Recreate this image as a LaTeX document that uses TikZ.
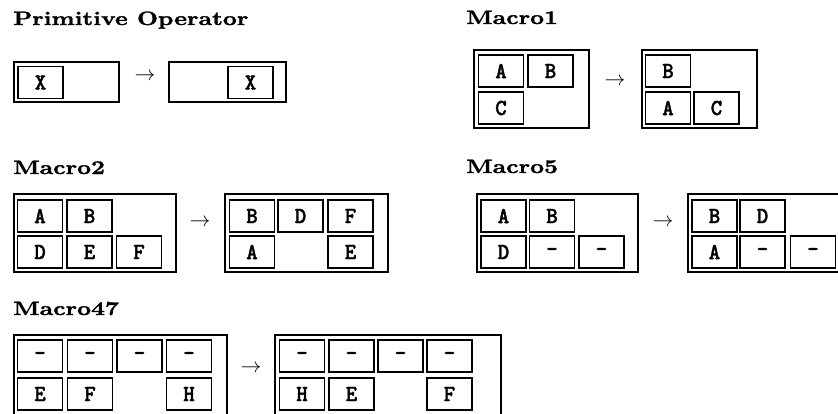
\documentclass[tikz,border=0pt]{standalone}
\usepackage{fontspec}
\newfontfamily\titlerm{lmroman10-bold.otf}[FakeStretch=1.25,FakeBold=1.5]
\newfontfamily\celltt{lmmonolt10-bold.otf}[FakeStretch=0.95,FakeBold=1.5]
\usetikzlibrary{positioning}

\begin{document}
\begin{tikzpicture}[x=1pt,y=-1pt,
    frame/.style={line width=1.2pt},
    cell/.style={draw,line width=1.6pt,minimum width=45pt,minimum height=32pt,
        inner sep=0pt,font=\celltt\fontsize{23}{23}\selectfont},
    title/.style={anchor=base west,inner sep=0pt,
        font=\titlerm\fontsize{19.4}{24}\selectfont},
    arr/.style={inner sep=0pt,font=\fontsize{20.74}{24}\selectfont}]
    \useasboundingbox (0,0) rectangle (838,413);
    \clip (0,0) rectangle (838,413);

    % Primitive Operator
    \node[title] (tprim) at (13,25) {Primitive Operator};
    \draw[frame] (14,62) rectangle (119,102);
    \node[cell] (px1) at (40.5,82.5) {X};
    \node[arr] (parr) at (145,77) {$\rightarrow$};
    \draw[frame] (169,62) rectangle (286,102);
    \node[cell] (px2) at (250.5,82.5) {X};

    % Macro1
    \node[title] (tm1) at (466,24) {Macro1};
    \draw[frame] (474,50) rectangle (589,128);
    \node[cell] (ma1) at (501,71) {A};
    \node[cell] (mb1) at (550.5,71) {B};
    \node[cell] (mc1) at (501,108) {C};
    \node[arr] (marr1) at (615,82) {$\rightarrow$};
    \draw[frame] (642,50) rectangle (757,128);
    \node[cell] (mb1r) at (668,71) {B};
    \node[cell] (ma1r) at (668,108) {A};
    \node[cell] (mc1r) at (716.5,108) {C};

    % Macro2
    \node[title] (tm2) at (13,174) {Macro2};
    \draw[frame] (14,194) rectangle (176,272);
    \node[cell] (ma2) at (40,216) {A};
    \node[cell] (mb2) at (89.5,216) {B};
    \node[cell] (md2) at (40,252) {D};
    \node[cell] (me2) at (89.5,252) {E};
    \node[cell] (mf2) at (139,252) {F};
    \node[arr] (marr2) at (200,223) {$\rightarrow$};
    \draw[frame] (225,194) rectangle (388,272);
    \node[cell] (mb2r) at (252,216) {B};
    \node[cell] (md2r) at (300.5,216) {D};
    \node[cell] (mf2r) at (350.5,216) {F};
    \node[cell] (ma2r) at (252,252) {A};
    \node[cell] (me2r) at (350.5,252) {E};

    % Macro5
    \node[title] (tm5) at (466,173) {Macro5};
    \draw[frame] (477,194) rectangle (638,272);
    \node[cell] (ma5) at (503.5,216) {A};
    \node[cell] (mb5) at (552,216) {B};
    \node[cell] (md5) at (503.5,252) {D};
    \node[cell] (mx5) at (552,252) {-};
    \node[cell] (my5) at (601.5,252) {-};
    \node[arr] (marr5) at (663,223) {$\rightarrow$};
    \draw[frame] (688,194) rectangle (852,272);
    \node[cell] (mb5r) at (714.5,216) {B};
    \node[cell] (md5r) at (762.5,216) {D};
    \node[cell] (ma5r) at (714.5,252) {A};
    \node[cell] (mx5r) at (762.5,252) {-};
    \node[cell] (my5r) at (813,252) {-};

    % Macro47
    \node[title] (tm47) at (13,315) {Macro47};
    \draw[frame] (14,335) rectangle (227,416);
    \node[cell] (mw47) at (40,356) {-};
    \node[cell] (mx47) at (90,356) {-};
    \node[cell] (my47) at (139.5,356) {-};
    \node[cell] (mz47) at (189,356) {-};
    \node[cell] (me47) at (40,394) {E};
    \node[cell] (mf47) at (90,394) {F};
    \node[cell] (mh47) at (189,394) {H};
    \node[arr] (marr47) at (251,369) {$\rightarrow$};
    \draw[frame] (275,335) rectangle (501,416);
    \node[cell] (mw47r) at (302,356) {-};
    \node[cell] (mx47r) at (351.5,356) {-};
    \node[cell] (my47r) at (400.5,356) {-};
    \node[cell] (mz47r) at (449.5,356) {-};
    \node[cell] (mh47r) at (302,394) {H};
    \node[cell] (me47r) at (351.5,394) {E};
    \node[cell] (mf47r) at (449.5,394) {F};
\end{tikzpicture}
\end{document}
